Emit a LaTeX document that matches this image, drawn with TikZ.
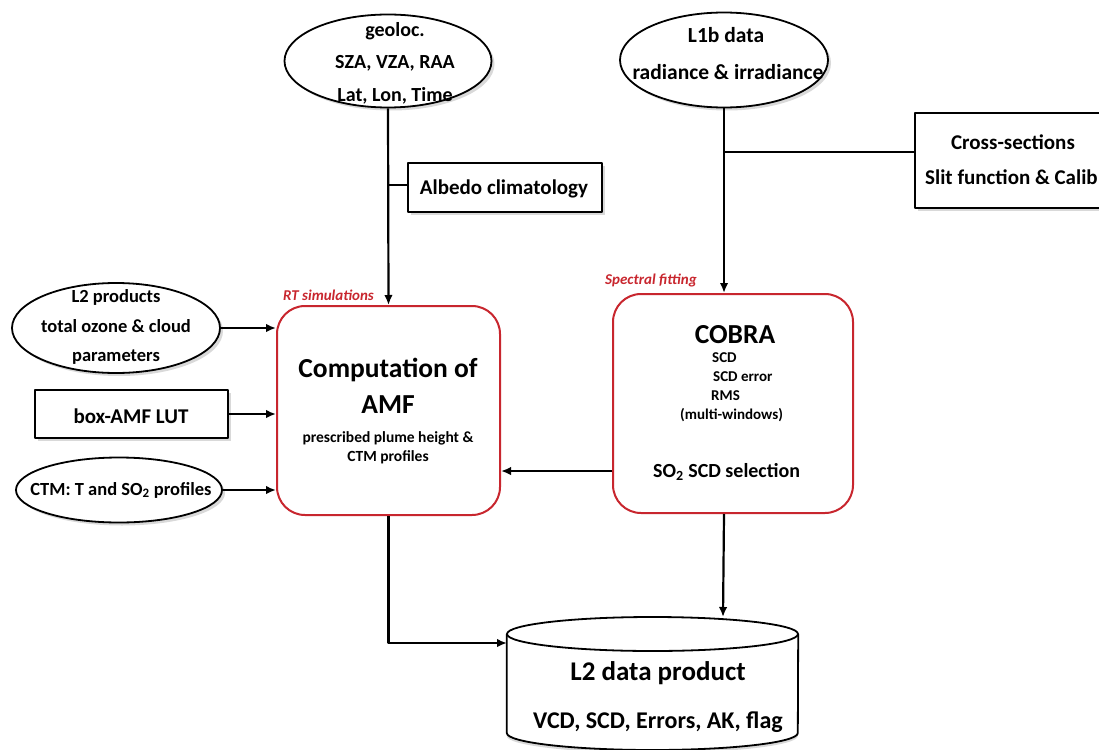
\documentclass[tikz,border=0pt]{standalone}
\usepackage{fontspec}
\setmainfont{Carlito}
\usetikzlibrary{shapes.geometric,shadows,arrows.meta}
\definecolor{boxred}{HTML}{C8262E}
\newcommand\fsz[1]{\fontsize{#1}{#1}\selectfont}
\begin{document}
\begin{tikzpicture}[x=1pt,y=-1pt,
  line join=round,
  shadowed/.style={drop shadow={shadow xshift=3pt,shadow yshift=-3pt,opacity=0.25,fill=black!60}},
  oval/.style={ellipse,draw,line width=1.8pt,fill=white,inner sep=0pt,shadowed},
  inbox/.style={rectangle,draw,line width=2pt,fill=white,inner sep=0pt,shadowed},
  procbox/.style={rectangle,draw=boxred,line width=2pt,rounded corners=28pt,fill=white,inner sep=0pt},
  lbl/.style={font=\bfseries\fsz{#1},inner sep=0pt,anchor=center},
  tag/.style={font=\bfseries\itshape\fsz{15},text=boxred,inner sep=0pt},
  link/.style={line width=2.2pt},
  flow/.style={link,-{Latex[length=10pt,width=8.5pt]}}
]
\useasboundingbox (0,0) rectangle (1099,749);
\clip (0,0) rectangle (1099,749);

% ---- input ellipses and boxes ----
\node[oval,minimum width=207,minimum height=93] (geo) at (388,61) {};
\node[lbl=20] (geoA) at (395,31) {geoloc.};
\node[lbl=20] (geoB) at (395,63) {SZA, VZA, RAA};
\node[lbl=20] (geoC) at (395,96) {Lat, Lon, Time};

\node[inbox,minimum width=194,minimum height=49] (alb) at (505,187.5) {};
\node[lbl=21] (albT) at (504,189) {Albedo climatology};

\node[oval,minimum width=208,minimum height=95] (l1b) at (724,60) {};
\node[lbl=21.5] (l1bA) at (726,35) {L1b data};
\node[lbl=21.5] (l1bB) at (728,72) {radiance \& irradiance};

\node[inbox,minimum width=230,minimum height=95] (xs) at (1030,160.5) {};
\node[lbl=21] (xsA) at (1013,142) {Cross-sections};
\node[lbl=21,anchor=west] (xsB) at (925,177) {Slit function \& Calib};

\node[oval,minimum width=208,minimum height=90] (l2p) at (116,328) {};
\node[lbl=18.5] (l2pA) at (116,297) {L2 products};
\node[lbl=18.5] (l2pB) at (116,326) {total ozone \& cloud};
\node[lbl=18.5] (l2pC) at (116,357) {parameters};

\node[inbox,minimum width=193,minimum height=48] (lut) at (131.5,414) {};
\node[lbl=21] (lutT) at (131,416) {box-AMF LUT};

\node[oval,minimum width=206,minimum height=65] (ctm) at (119,490) {};
\node[lbl=18.5] (ctmT) at (121,490) {CTM: T and SO\textsubscript{2} profiles};

% ---- processing blocks ----
\node[procbox,minimum width=223,minimum height=209] (amf) at (388.5,410.5) {};
\node[tag,anchor=west] (amfTag) at (283,295) {RT simulations};
\node[lbl=27.5] (amfA) at (388,370) {Computation of};
\node[lbl=27.5] (amfB) at (388,405) {AMF};
\node[lbl=15.5] (amfC) at (388,438) {prescribed plume height \&};
\node[lbl=15.5] (amfD) at (388,457) {CTM profiles};

\node[procbox,minimum width=240,minimum height=219] (cob) at (733,403.5) {};
\node[tag,anchor=west] (cobTag) at (605,280) {Spectral fitting};
\node[lbl=27.5] (cobA) at (735,335) {COBRA};
\node[lbl=15,anchor=west] (cobB) at (712,358) {SCD};
\node[lbl=15,anchor=west] (cobC) at (713,377) {SCD error};
\node[lbl=15,anchor=west] (cobD) at (711,396) {RMS};
\node[lbl=15,anchor=west] (cobE) at (680,415) {(multi-windows)};
\node[lbl=20,anchor=west] (cobF) at (653,472) {SO\textsubscript{2} SCD selection};

% ---- output data store (cylinder) ----
\node[minimum width=291,minimum height=133,inner sep=0pt] (out) at (652.5,683.5) {};
\fill[black!60,opacity=0.25,shift={(3,3)}]
  (out.west |- 0,634) -- (out.west |- 0,733)
  arc[start angle=180,end angle=0,x radius=145.5,y radius=17]
  -- (out.east |- 0,634)
  arc[start angle=0,end angle=-180,x radius=145.5,y radius=17] -- cycle;
\filldraw[fill=white,line width=1.8pt]
  (out.west |- 0,634) -- (out.west |- 0,733)
  arc[start angle=180,end angle=0,x radius=145.5,y radius=17]
  -- (out.east |- 0,634);
\filldraw[fill=white,line width=1.8pt] (652.5,634) ellipse[x radius=145.5,y radius=17];
\node[lbl=27] (outA) at (658,673) {L2 data product};
\node[lbl=24] (outB) at (658,722) {VCD, SCD, Errors, AK, flag};
\coordinate (outIn) at (507,643);
\coordinate (outTop) at (723,617);

% ---- connectors ----
\draw[flow] (geo.south) -- (amf.north);
\draw[link] (geo.south |- 0,185) -- (alb.west |- 0,185);
\draw[flow] (l1b.south) -- (l1b.south |- cob.north);
\draw[link] (l1b.south |- 0,152) -- (xs.west |- 0,152);
\draw[flow] (l2p.east) -- (amf.west |- l2p.east);
\draw[flow] (lut.east) -- (amf.west |- lut.east);
\draw[flow] (ctm.east) -- (amf.west |- ctm.east);
\draw[flow] (cob.west |- 0,471) -- (amf.east |- 0,471);
\draw[flow] (amf.south) |- (outIn);
\draw[flow] (cob.south -| l1b.south) -- (outTop);
\end{tikzpicture}
\end{document}
